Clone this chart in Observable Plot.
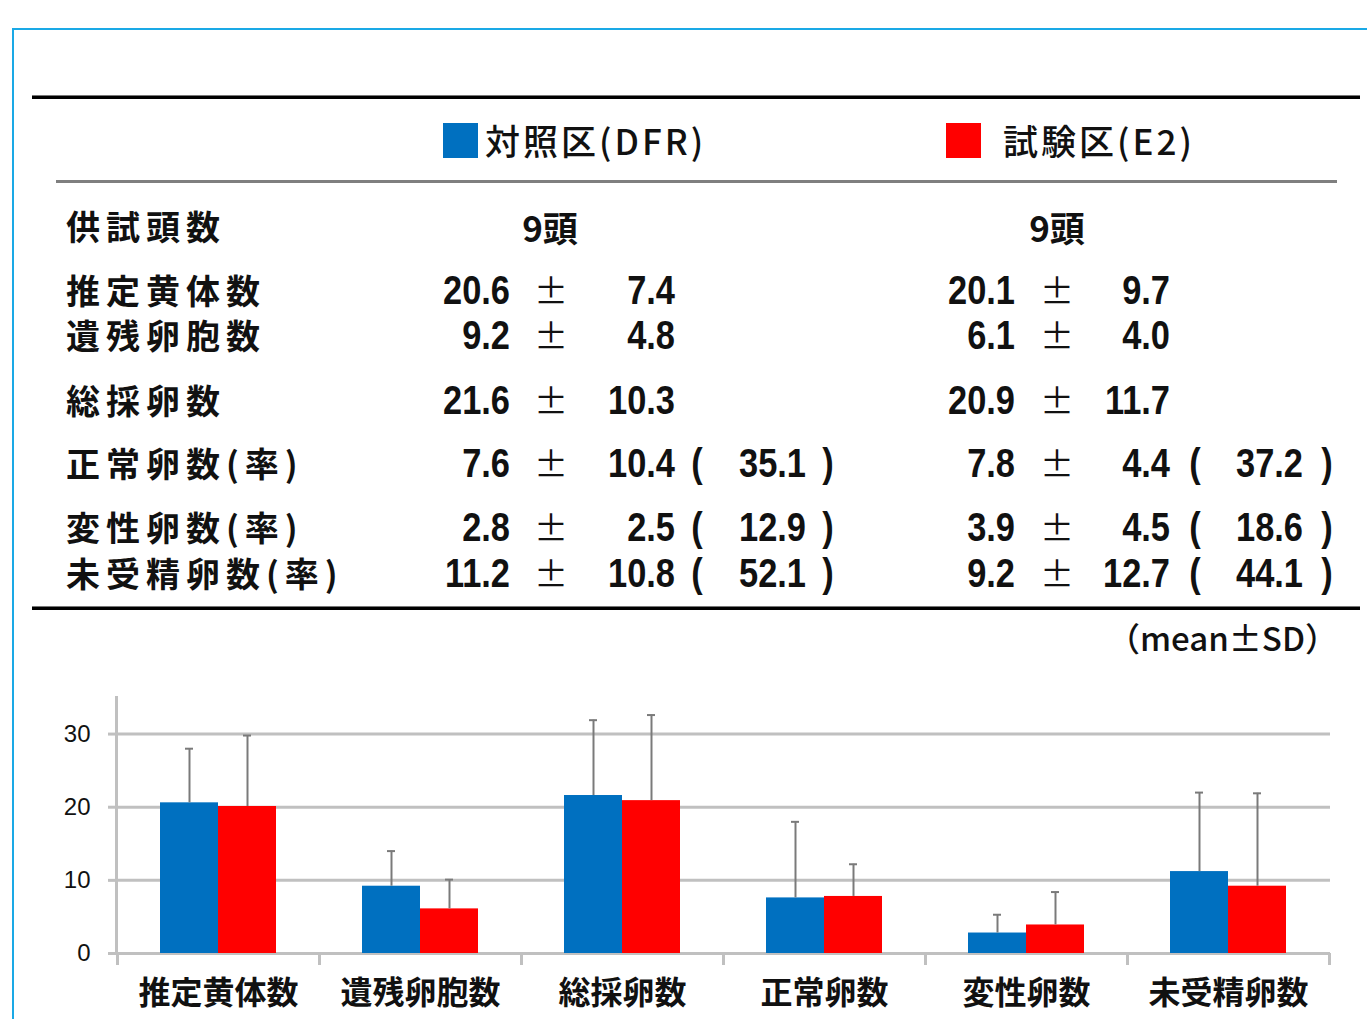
<!DOCTYPE html>
<html>
<head>
<meta charset="utf-8">
<script src="https://cdn.jsdelivr.net/npm/d3@7"></script>
<script src="https://cdn.jsdelivr.net/npm/@observablehq/plot@0.6"></script>
<style>
  html, body { margin: 0; padding: 0; background: #fff; width: 1367px; height: 1019px; overflow: hidden; }
  #page { position: relative; width: 1367px; height: 1019px; }
  .frame { position: absolute; left: 12px; top: 28px; width: 1400px; height: 1100px;
           border-left: 2px solid #1aa9e6; border-top: 2px solid #1aa9e6; }
  .hline { position: absolute; }
  .t { position: absolute; white-space: nowrap; color: #111; line-height: 1; }
  .jp { font-family: "Noto Sans CJK JP", sans-serif; }
  .num { font-family: "Liberation Sans", sans-serif; }
  #chart { position: absolute; left: 0; top: 680px; }
</style>
</head>
<body>
<div id="page">
  <div class="frame"></div>
  <div id="chart"></div>
</div>
<script>
// ---------- data ----------
const series = ["対照区(DFR)", "試験区(E2)"];
const seriesColors = ["#0070c0", "#ff0000"];
const headLabel = "供試頭数";
const headCount = ["9頭", "9頭"];
const rowLabels = ["推定黄体数", "遺残卵胞数", "総採卵数", "正常卵数(率)", "変性卵数(率)", "未受精卵数(率)"];
const categories = ["推定黄体数", "遺残卵胞数", "総採卵数", "正常卵数", "変性卵数", "未受精卵数"];
const ctrlMean = [20.6, 9.2, 21.6, 7.6, 2.8, 11.2];
const ctrlSD   = [7.4, 4.8, 10.3, 10.4, 2.5, 10.8];
const ctrlPct  = [null, null, null, 35.1, 12.9, 52.1];
const e2Mean   = [20.1, 6.1, 20.9, 7.8, 3.9, 9.2];
const e2SD     = [9.7, 4.0, 11.7, 4.4, 4.5, 12.7];
const e2Pct    = [null, null, null, 37.2, 18.6, 44.1];
const yTicks = [0, 10, 20, 30];
const note = "（mean±SD）";

// ---------- table (HTML layout) ----------
const page = document.getElementById("page");
function txt(s, x, y, align, cls, style, sx) {
  const d = document.createElement("div");
  d.className = "t " + cls;
  d.textContent = s;
  const tx = align === "right" ? "-100%" : align === "center" ? "-50%" : "0";
  const ox = align === "right" ? "right" : align === "center" ? "center" : "left";
  d.style.left = x + "px";
  d.style.top = y + "px";
  d.style.transformOrigin = ox + " center";
  d.style.transform = `translate(${tx}, -50%)` + (sx ? ` scaleX(${sx})` : "");
  Object.assign(d.style, style || {});
  page.appendChild(d);
  return d;
}
function hline(x1, x2, y, h, bg, extra) {
  const d = document.createElement("div");
  d.className = "hline";
  d.style.left = x1 + "px"; d.style.width = (x2 - x1) + "px";
  d.style.top = y + "px"; d.style.height = h + "px";
  d.style.background = bg;
  Object.assign(d.style, extra || {});
  page.appendChild(d);
}
hline(32, 1360, 95, 3, "#000", {borderTop: "1px solid #777"});
hline(56, 1337, 180, 3, "#7f7f7f");
hline(32, 1360, 606, 3, "#000", {borderTop: "1px solid #777"});

// legend row
const legendX = [443, 946];
const legendTextX = [485, 1003];
series.forEach((s, i) => {
  const sq = document.createElement("div");
  sq.style.cssText = `position:absolute;left:${legendX[i]}px;top:123px;width:35px;height:35px;background:${seriesColors[i]};`;
  page.appendChild(sq);
  txt(s, legendTextX[i], 139, "left", "jp", {fontSize: "35px", fontWeight: "500", letterSpacing: "3px"});
});

const labelStyle = {fontSize: "34px", fontWeight: "700", letterSpacing: "6px"};
const numStyle = {fontSize: "40px", fontWeight: "700"};
const pmStyle = {fontSize: "34px", fontWeight: "400"};
const numScale = 0.86;

// head count row
txt(headLabel, 66, 226, "left", "jp", labelStyle);
const headX = [550, 1057];
headCount.forEach((h, i) => txt(h, headX[i], 226, "center", "jp", {fontSize: "35px", fontWeight: "700"}));

// measure rows
const rowY = [290, 335, 400, 463, 527, 573];
const cols = [
  {mean: ctrlMean, sd: ctrlSD, pct: ctrlPct, meanR: 510, pm: 551, sdR: 675, lp: 697, pctR: 806, rp: 828},
  {mean: e2Mean, sd: e2SD, pct: e2Pct, meanR: 1015, pm: 1057, sdR: 1170, lp: 1195, pctR: 1303, rp: 1327}
];
rowLabels.forEach((lab, r) => {
  const y = rowY[r];
  txt(lab, 66, y, "left", "jp", labelStyle);
  cols.forEach(c => {
    txt(c.mean[r].toFixed(1), c.meanR, y, "right", "num", numStyle, numScale);
    txt("±", c.pm, y, "center", "jp", pmStyle);
    txt(c.sd[r].toFixed(1), c.sdR, y, "right", "num", numStyle, numScale);
    if (c.pct[r] != null) {
      txt("(", c.lp, y, "center", "num", numStyle, numScale);
      txt(c.pct[r].toFixed(1), c.pctR, y, "right", "num", numStyle, numScale);
      txt(")", c.rp, y, "center", "num", numStyle, numScale);
    }
  });
});
txt(note, 1338, 637, "right", "jp", {fontSize: "33px", fontWeight: "500"});

// ---------- chart (Plot) ----------
const bars = [];
categories.forEach((c, i) => {
  bars.push({cat: c, s: 0, mean: ctrlMean[i], sd: ctrlSD[i]});
  bars.push({cat: c, s: 1, mean: e2Mean[i], sd: e2SD[i]});
});
const blue = bars.filter(d => d.s === 0);
const red = bars.filter(d => d.s === 1);
const gridColor = "#c0c0c0";
const errColor = "#7a7a7a";

const chart = Plot.plot({
  width: 1367,
  height: 339,
  marginLeft: 116,
  marginRight: 37,
  marginTop: 17,
  marginBottom: 66,
  x: {domain: categories, padding: 0, label: null},
  y: {domain: [0, 35], label: null},
  style: {background: "transparent"},
  marks: [
    Plot.ruleY(yTicks, {stroke: gridColor, strokeWidth: 3}),
    Plot.frame({anchor: "left", stroke: gridColor, strokeWidth: 3}),
    // category boundary ticks below the baseline
    Plot.ruleX(categories, {x: d => d, dx: -101, y1: 0, y2: 0, insetBottom: -12, stroke: gridColor, strokeWidth: 3}),
    Plot.ruleX(categories.slice(-1), {x: d => d, dx: 101, y1: 0, y2: 0, insetBottom: -12, stroke: gridColor, strokeWidth: 3}),
    Plot.barY(blue, {x: "cat", y: "mean", fill: seriesColors[0], insetLeft: 43, insetRight: 101}),
    Plot.barY(red, {x: "cat", y: "mean", fill: seriesColors[1], insetLeft: 101, insetRight: 43}),
    Plot.ruleX(blue, {x: "cat", y1: "mean", y2: d => d.mean + d.sd, dx: -29, stroke: errColor, strokeWidth: 2}),
    Plot.ruleX(red, {x: "cat", y1: "mean", y2: d => d.mean + d.sd, dx: 29, stroke: errColor, strokeWidth: 2}),
    Plot.tickY(blue, {x: "cat", y: d => d.mean + d.sd, insetLeft: 68, insetRight: 126, stroke: errColor, strokeWidth: 2}),
    Plot.tickY(red, {x: "cat", y: d => d.mean + d.sd, insetLeft: 126, insetRight: 68, stroke: errColor, strokeWidth: 2}),
    Plot.axisY({ticks: yTicks, tickSize: 8, tickPadding: 18, stroke: gridColor, strokeWidth: 3, label: null,
                fontSize: 24, fill: "#111", fontFamily: "Liberation Sans, sans-serif"}),
    Plot.axisX({tickSize: 0, tickPadding: 28, fontSize: 32, fontWeight: 700, fill: "#111", label: null,
                fontFamily: "Noto Sans CJK JP, sans-serif"})
  ]
});
document.getElementById("chart").appendChild(chart);
</script>
</body>
</html>
